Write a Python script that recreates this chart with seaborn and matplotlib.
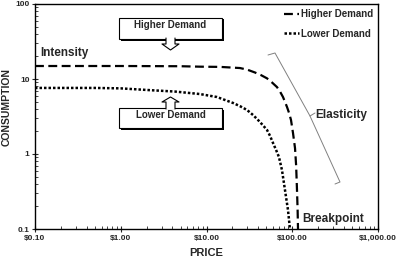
import matplotlib
matplotlib.use("Agg")
import matplotlib.pyplot as plt
from matplotlib.patches import Rectangle, Polygon
from matplotlib.ticker import FixedLocator, FuncFormatter, LogLocator, NullFormatter
import pandas as pd
import seaborn as sns

# values (price in $, consumption)
high_price = [0.1, 1.0, 5.0, 8.4, 14.4, 24.6, 30.0, 36.8, 43.0, 50.8, 58.0, 66.4, 72.0,
              78.0, 82.0, 86.9, 92.0, 96.7, 102.0, 107.7, 111.0, 113.6, 115.5, 116.7]
high_cons = [14.9, 14.9, 14.8, 14.6, 14.5, 14.0, 13.3, 12.2, 11.3, 10.2, 9.0, 7.8, 6.8,
             5.75, 5.0, 4.23, 3.5, 2.84, 1.91, 1.2, 0.7, 0.33, 0.18, 0.1]
low_price = [0.1, 0.5, 1.0, 2.19, 4.3, 8.4, 13.25, 20.4, 25.0, 29.7, 35.0, 39.9, 45.0,
             50.8, 55.0, 59.7, 65.0, 70.0, 75.9, 82.3, 89.2, 94.0]
low_cons = [7.6, 7.6, 7.5, 7.1, 6.8, 6.3, 5.75, 4.79, 4.3, 3.86, 3.3, 2.84, 2.45,
            2.09, 1.75, 1.40, 1.12, 0.91, 0.61, 0.33, 0.179, 0.1]

x_ticks = [0.1, 1, 10, 100, 1000]
x_labels = ["$0.10", "$1.00", "$10.00", "$100.00", "$1,000.00"]
y_ticks = [0.1, 1, 10, 100]
y_labels = ["0.1", "1", "10", "100"]

high = pd.DataFrame({"price": high_price, "consumption": high_cons})
low = pd.DataFrame({"price": low_price, "consumption": low_cons})

sns.set_style("white")
plt.rcParams["font.family"] = ["Liberation Sans", "DejaVu Sans"]
plt.rcParams["font.weight"] = "bold"

W, H = 396, 259
fig = plt.figure(figsize=(W / 100, H / 100), dpi=100)
ax = fig.add_axes([35 / W, 1 - 229 / H, (378 - 35) / W, (229 - 4) / H])


def px(x, y):
    return (x / W, 1 - y / H)


sns.lineplot(data=high, x="price", y="consumption", ax=ax, color="black",
             linewidth=1.6, linestyle=(0, (4, 2)), label="Higher Demand")
sns.lineplot(data=low, x="price", y="consumption", ax=ax, color="black",
             linewidth=1.8, linestyle=(0, (1, 0.8)), label="Lower Demand")
for ln in ax.lines:
    ln.set_dash_capstyle("butt")

ax.set_xscale("log")
ax.set_yscale("log")
ax.set_xlim(0.1, 1000)
ax.set_ylim(0.1, 100)
ax.xaxis.set_major_locator(FixedLocator(x_ticks))
ax.xaxis.set_major_formatter(FuncFormatter(lambda v, p: x_labels[x_ticks.index(min(x_ticks, key=lambda t: abs(t - v)))]))
ax.yaxis.set_major_locator(FixedLocator(y_ticks))
ax.yaxis.set_major_formatter(FuncFormatter(lambda v, p: y_labels[y_ticks.index(min(y_ticks, key=lambda t: abs(t - v)))]))
for a in (ax.xaxis, ax.yaxis):
    a.set_minor_locator(LogLocator(base=10, subs=range(2, 10)))
    a.set_minor_formatter(NullFormatter())
ax.tick_params(which="major", direction="inout", length=4, width=0.8, labelsize=6, pad=2)
ax.tick_params(which="minor", direction="in", length=2, width=0.6)
ax.tick_params(left=True, bottom=True, which="both")
for s in ax.spines.values():
    s.set_color("black")
    s.set_linewidth(1.0)

ax.set_xlabel("PRICE", fontsize=8, fontweight="bold")
ax.set_ylabel("CONSUMPTION", fontsize=7.5, fontweight="bold")
ax.xaxis.set_label_coords(0.5, -0.085)
ax.yaxis.set_label_coords(-0.068, 0.54)

leg = ax.legend(loc="upper right", frameon=False, fontsize=7, handlelength=1.5,
                handletextpad=0.2, labelspacing=0.95, borderaxespad=0.15)
for t in leg.get_texts():
    t.set_fontweight("bold")

# text annotations
fig.text(*px(40, 53), "Intensity", fontsize=8.5, fontweight="bold", va="center", ha="left")
fig.text(*px(315, 115), "Elasticity", fontsize=8.5, fontweight="bold", va="center", ha="left")
fig.text(*px(302, 219), "Breakpoint", fontsize=8.5, fontweight="bold", va="center", ha="left")

# elasticity bracket
fig.add_artist(plt.Line2D([px(x, 0)[0] for x in [268, 275, 310, 340, 335]],
                          [px(0, y)[1] for y in [55, 53, 116, 182, 184]],
                          color="gray", linewidth=0.7, transform=fig.transFigure))
fig.add_artist(plt.Line2D([px(x, 0)[0] for x in [310, 315]],
                          [px(0, y)[1] for y in [116, 113]],
                          color="gray", linewidth=0.7, transform=fig.transFigure))


def callout(x0, y0, x1, y1, label, arrow_pts):
    # shadow
    fig.add_artist(Rectangle(px(x0 + 1.5, y1 + 1.5), (x1 - x0) / W, (y1 - y0) / H,
                             transform=fig.transFigure, facecolor="black", edgecolor="none", zorder=5))
    fig.add_artist(Rectangle(px(x0, y1), (x1 - x0) / W, (y1 - y0) / H,
                             transform=fig.transFigure, facecolor="white", edgecolor="black",
                             linewidth=0.8, zorder=6))
    fig.add_artist(Polygon([px(x, y) for x, y in arrow_pts], closed=True,
                           transform=fig.transFigure, facecolor="white", edgecolor="none", zorder=7))
    fig.add_artist(plt.Line2D([px(x, 0)[0] for x, y in arrow_pts],
                              [px(0, y)[1] for x, y in arrow_pts],
                              color="black", linewidth=0.8, transform=fig.transFigure, zorder=8))
    fig.text(*px((x0 + x1) / 2, y0 + 7), label, fontsize=7, fontweight="bold",
             ha="center", va="center", zorder=9)


hi_arrow = [(166, 38), (166, 44), (162, 44), (170.5, 50), (179, 44), (175, 44), (175, 38)]
callout(119, 18, 222, 39, "Higher Demand", hi_arrow)
lo_arrow = [(166, 109), (166, 102), (162, 102), (170.5, 97), (179, 102), (175, 102), (175, 109)]
callout(119, 108, 222, 128, "Lower Demand", lo_arrow)

fig.savefig("out.png", dpi=100)
